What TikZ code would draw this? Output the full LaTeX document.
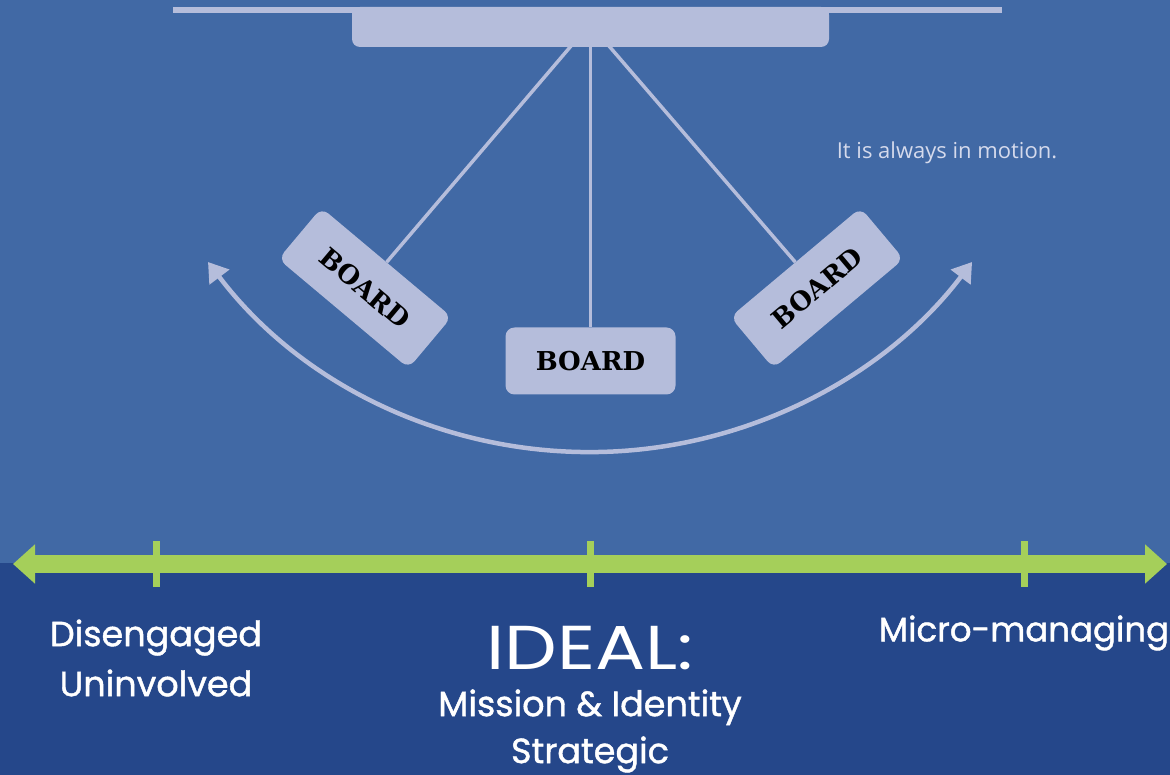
\documentclass[tikz,border=0pt]{standalone}
\usepackage{fontspec}
\usepackage{graphicx}
\setmainfont{Poppins}
\newfontfamily\labfont{Poppins}[FakeBold=1.2]
\newfontfamily\slabfont{DejaVu Serif}[BoldFont={DejaVu Serif Bold}]
\newfontfamily\smallfont{Open Sans}
\usetikzlibrary{arrows.meta}
\definecolor{topbg}{HTML}{4169A5}
\definecolor{botbg}{HTML}{25478A}
\definecolor{pale}{HTML}{B5BDDB}
\definecolor{lime}{HTML}{A5CF5A}
\definecolor{note}{HTML}{D5DAEC}
\tikzset{
  boardbox/.style={fill=pale, rounded corners=9pt, minimum width=170pt, minimum height=67pt,
    inner sep=0pt, font=\slabfont\bfseries\fontsize{26}{30}\selectfont, text=black},
  string/.style={draw=pale, line width=3.5pt},
  lbl/.style={text=white, align=center, inner sep=0pt},
  tick/.style={draw=lime, line width=7pt},
}
\begin{document}
\begin{tikzpicture}[x=1pt,y=-1pt]
\useasboundingbox (0,0) rectangle (1170,775);
\fill[topbg] (0,0) rectangle (1170,563);
\fill[botbg] (0,563) rectangle (1170,775);
% top rail and mount
\draw[pale, line width=6pt] (173,10) -- (1002,10);
\node[fill=pale, rounded corners=8pt, minimum width=477pt, minimum height=40pt, inner sep=0pt] (mount) at (590.5,27) {};
\fill[pale] (352,7) rectangle (829,22);
% boards
\node[boardbox] (cb) at (590.5,361) {BOARD};
\node[boardbox, rotate=-40] (lb) at (365,288) {BOARD};
\node[boardbox, rotate=40] (rb) at (817,288) {BOARD};
\coordinate (s1) at (571,46);
\coordinate (s2) at (590.5,46);
\coordinate (s3) at (609,46);
\draw[string] (s1) -- (lb.north);
\draw[string] (s2) -- (cb.north);
\draw[string] (s3) -- (rb.north);
% swing arc
\coordinate (arcstart) at (208,262);
\draw[draw=pale, line width=4.5pt, {Triangle[length=19pt,width=24pt]}-{Triangle[length=19pt,width=24pt]}]
  (arcstart) arc[start angle=142.9, end angle=37.1, radius=479];
% note
\node[text=note, font=\smallfont\fontsize{22}{25}\selectfont, inner sep=0pt] (motion) at (947,153) {It is always in motion.};
% green scale
\coordinate (gl) at (13,564);
\coordinate (gr) at (1167,564);
\draw[lime, line width=18pt, {Triangle[length=22pt,width=38pt]}-{Triangle[length=22pt,width=38pt]}] (gl) -- (gr);
\draw[tick] (156,541) -- (156,587);
\draw[tick] (590,541) -- (590,587);
\draw[tick] (1024,541) -- (1024,587);
% labels
\node[lbl, font=\labfont\fontsize{35}{50}\selectfont] (dis) at (156,658) {Disengaged\\Uninvolved};
\node[lbl, font=\labfont\fontsize{34}{50}\selectfont] (micro) at (1024,633) {Micro-managing};
\node[lbl, font=\fontsize{62}{64}\selectfont] (ideal) at (590,648) {\scalebox{1.2}[1]{IDEAL:}};
\node[lbl, font=\labfont\fontsize{35}{47}\selectfont] (mission) at (590,731) {Mission \& Identity\\Strategic};
\end{tikzpicture}
\end{document}
